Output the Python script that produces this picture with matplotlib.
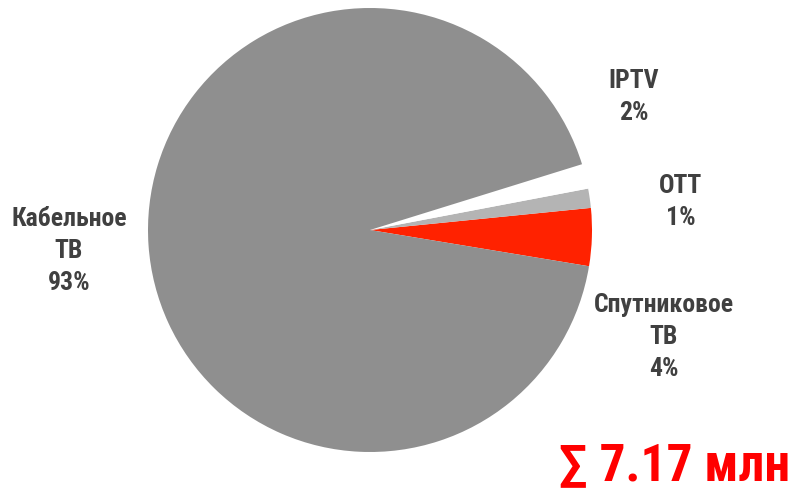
import matplotlib
matplotlib.use('Agg')
import matplotlib.pyplot as plt

# shares, counterclockwise from the red slice
segments = ['Спутниковое\nТВ', 'OTT', 'IPTV', 'Кабельное\nТВ']
shares = [4.2, 1.4, 1.8, 92.6]
pct_labels = ['4%', '1%', '2%', '93%']
colors = ['#FF2200', '#B4B4B4', '#FFFFFF', '#8F8F8F']
total_text = '∑ 7.17 млн'

plt.rcParams['font.family'] = ['Roboto Condensed', 'Liberation Sans', 'DejaVu Sans']

W, H = 794, 490
fig = plt.figure(figsize=(W / 100, H / 100), dpi=100)
cx, cy, r = 370, 230, 222
ax = fig.add_axes([(cx - r) / W, (H - cy - r) / H, 2 * r / W, 2 * r / H])
ax.pie(shares, colors=colors, startangle=-9.4, counterclock=True,
       radius=1.0, wedgeprops=dict(linewidth=0))
ax.set_xlim(-1, 1)
ax.set_ylim(-1, 1)
ax.set_aspect('equal')
ax.axis('off')

# label centres in pixels (x, top of first line)
label_pos = [(664, 293), (681, 174), (634, 69), (69, 207)]
for name, pct, (x, y) in zip(segments, pct_labels, label_pos):
    fig.text(x / W, 1 - y / H, name + '\n' + pct, ha='center', va='top',
             fontsize=18.5, fontweight='bold', color='#404040', linespacing=1.42)

fig.text(790 / W, 1 - 480 / H, total_text, ha='right', va='baseline',
         fontsize=37, fontweight='bold', color='#FF0000')

fig.savefig('out.png', dpi=100)
